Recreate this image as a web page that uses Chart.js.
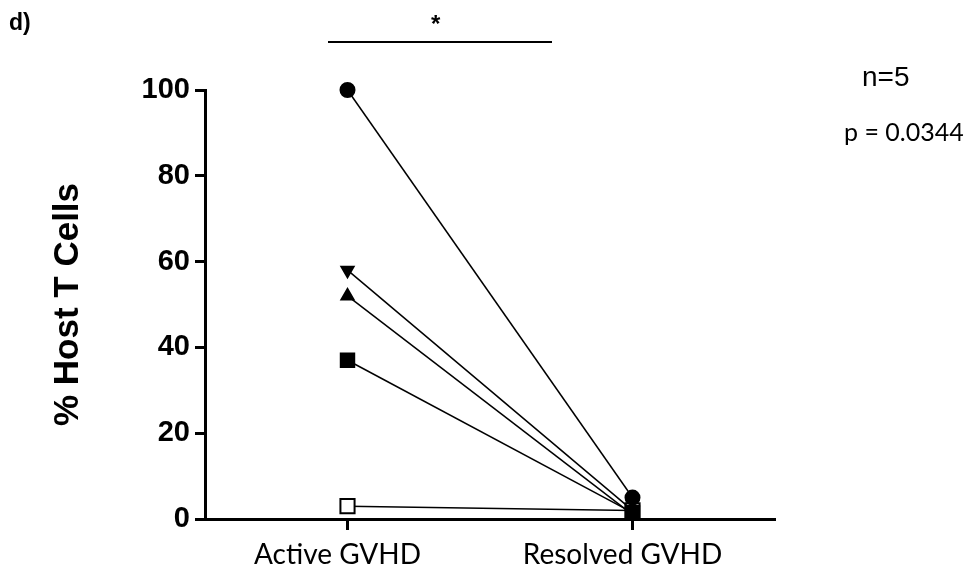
<!DOCTYPE html>
<html>
<head>
<meta charset="utf-8">
<script src="https://cdn.jsdelivr.net/npm/chart.js@4.4.1/dist/chart.umd.min.js"></script>
<style>
    html, body { margin: 0; padding: 0; background: #ffffff; }
    #wrap { position: relative; width: 970px; height: 580px; }
    .note { position: absolute; color: #000000; white-space: nowrap; line-height: 1; }
    #panel { left: 9px; top: 9px; font: bold 23px "Liberation Sans", Arial, sans-serif; }
    #star { left: 431px; top: 10px; font: bold 24px "Liberation Sans", Arial, sans-serif; }
    #n { left: 862px; top: 61px; font: 28px "Liberation Sans", Arial, sans-serif; }
    #p { left: 844px; top: 116px; font: 25px Lato, "Open Sans", sans-serif; }
</style>
</head>
<body>
<div id="wrap">
    <canvas id="host-chart" width="970" height="580"></canvas>
    <div class="note" id="panel">d)</div>
    <div class="note" id="star">*</div>
    <div class="note" id="n">n=5</div>
    <div class="note" id="p">p = 0.0344</div>
</div>
<script>
// values
const groups = ['Active GVHD', 'Resolved GVHD'];
const circlePatient = [100, 5];
const downTrianglePatient = [58, 2];
const upTrianglePatient = [52, 1];
const squarePatient = [37, 1.5];
const openSquarePatient = [3, 2];
const yTicks = [0, 20, 40, 60, 80, 100];

document.addEventListener('DOMContentLoaded', function () {
    const ctx = document.getElementById('host-chart').getContext('2d');

    // significance bar above the plot
    const sigBar = {
        id: 'sigBar',
        afterDraw(chart) {
            const c = chart.ctx;
            c.save();
            c.strokeStyle = '#000000';
            c.lineWidth = 2;
            c.beginPath();
            c.moveTo(328, 42);
            c.lineTo(552, 42);
            c.stroke();
            c.restore();
        }
    };

    function series(data, style, radius, fill, rotation) {
        return {
            data: data,
            borderColor: '#000000',
            borderWidth: 1.5,
            pointStyle: style,
            pointRadius: radius,
            pointRotation: rotation || 0,
            pointBackgroundColor: fill,
            pointBorderColor: '#000000',
            pointBorderWidth: 2,
            clip: false
        };
    }

    new Chart(ctx, {
        type: 'line',
        data: {
            labels: groups,
            datasets: [
                series(circlePatient, 'circle', 7, '#000000'),
                series(downTrianglePatient, 'triangle', 7, '#000000', 180),
                series(upTrianglePatient, 'triangle', 7, '#000000'),
                series(squarePatient, 'rect', 9.5, '#000000'),
                series(openSquarePatient, 'rect', 10, '#ffffff')
            ]
        },
        options: {
            responsive: false,
            animation: false,
            layout: {
                padding: { top: 90, right: 195, left: 0, bottom: 0 }
            },
            plugins: {
                legend: { display: false },
                tooltip: { enabled: false }
            },
            scales: {
                x: {
                    type: 'category',
                    offset: true,
                    grid: {
                        offset: false,
                        drawOnChartArea: false,
                        tickLength: 11,
                        tickWidth: 3,
                        tickColor: '#000000'
                    },
                    border: { color: '#000000', width: 3 },
                    ticks: {
                        color: '#000000',
                        padding: 8,
                        labelOffset: -10,
                        font: { family: 'Lato', size: 28 }
                    },
                    afterFit: function (scale) { scale.height = 61; }
                },
                y: {
                    min: 0,
                    max: 100,
                    afterBuildTicks: function (scale) {
                        scale.ticks = yTicks.map(v => ({ value: v }));
                    },
                    grid: {
                        drawOnChartArea: false,
                        tickLength: 10,
                        tickWidth: 3,
                        tickColor: '#000000'
                    },
                    border: { color: '#000000', width: 3 },
                    ticks: {
                        color: '#000000',
                        padding: 5,
                        font: { family: 'Liberation Sans', size: 29, weight: 'bold' }
                    },
                    title: {
                        display: true,
                        text: '% Host T Cells',
                        color: '#000000',
                        padding: { top: 47, bottom: 0 },
                        font: { family: 'Liberation Sans', size: 35, weight: 'bold' }
                    },
                    afterFit: function (scale) { scale.width = 205; }
                }
            }
        },
        plugins: [sigBar]
    });
});
</script>
</body>
</html>
